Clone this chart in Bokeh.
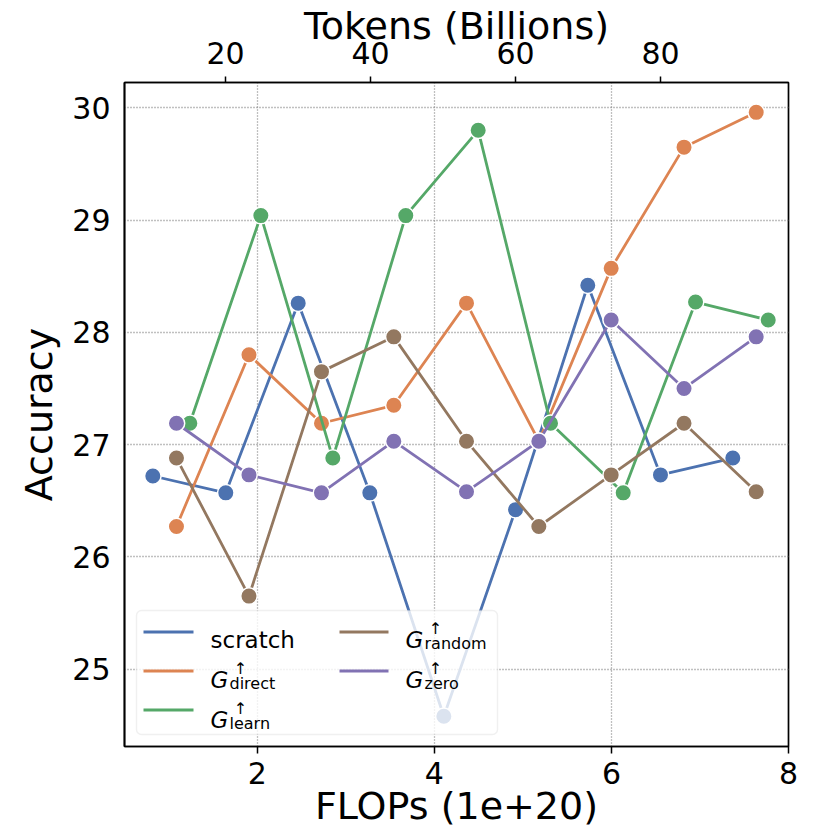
from bokeh.plotting import figure
from bokeh.models import Range1d, LinearAxis, FixedTicker, BoxAnnotation, Arrow, Label
from bokeh.embed import file_html
from bokeh.resources import INLINE

FONT = "DejaVu Sans"

# ---- data ----
flops_scratch = [0.820, 1.644, 2.462, 3.271, 4.107, 4.917, 5.733, 6.554, 7.371]
flops_grown = [1.087, 1.906, 2.725, 3.542, 4.363, 5.180, 5.997, 6.820, 7.635]
flops_learn = [1.238, 2.040, 2.853, 3.677, 4.495, 5.312, 6.133, 6.950, 7.771]

acc_scratch = [26.72, 26.57, 28.26, 26.57, 24.58, 26.42, 28.42, 26.73, 26.88]
acc_direct = [26.27, 27.80, 27.19, 27.35, 28.26, 27.03, 28.57, 29.65, 29.96]
acc_learn = [27.19, 29.04, 26.88, 29.04, 29.80, 27.19, 26.57, 28.27, 28.11]
acc_random = [26.88, 25.65, 27.65, 27.96, 27.03, 26.27, 26.73, 27.19, 26.58]
acc_zero = [27.19, 26.73, 26.57, 27.03, 26.58, 27.03, 28.11, 27.50, 27.96]

x_ticks = [2, 4, 6, 8]
y_ticks = [25, 26, 27, 28, 29, 30]
token_ticks = [20, 40, 60, 80]

series_names = ["scratch", "direct", "learn", "random", "zero"]
series_colors = ["#4C72B0", "#DD8452", "#55A868", "#937860", "#8172B3"]
series_x = [flops_scratch, flops_grown, flops_learn, flops_grown, flops_grown]
series_y = [acc_scratch, acc_direct, acc_learn, acc_random, acc_zero]

FW, FH = 664, 664
p = figure(frame_width=FW, frame_height=FH,
           x_range=Range1d(0.5, 8.0), y_range=Range1d(24.31, 30.226),
           output_backend="svg", toolbar_location=None,
           min_border_left=124, min_border_right=42,
           min_border_top=82, min_border_bottom=84)
p.extra_x_ranges = {"tokens": Range1d(6.07, 97.66)}
p.background_fill_color = "white"
p.border_fill_color = "white"
p.outline_line_color = "black"
p.outline_line_width = 1.7
p.outline_line_alpha = 1.0

def style_axis(ax, ticks, tick_out, standoff, label=None, label_standoff=0, lh=1.2):
    ax.ticker = FixedTicker(ticks=ticks)
    ax.major_label_text_font = FONT
    ax.major_label_text_font_size = "30px"
    ax.major_label_text_color = "black"
    ax.major_tick_out = tick_out
    ax.major_tick_in = 0
    ax.minor_tick_out = 0
    ax.minor_tick_in = 0
    ax.major_tick_line_color = "black"
    ax.major_tick_line_width = 1.5
    ax.axis_line_color = "black"
    ax.axis_line_width = 1.7
    ax.major_label_standoff = standoff
    if label is not None:
        ax.axis_label = label
        ax.axis_label_text_font = FONT
        ax.axis_label_text_font_size = "38px"
        ax.axis_label_text_font_style = "normal"
        ax.axis_label_text_color = "black"
        ax.axis_label_standoff = label_standoff
        ax.axis_label_text_line_height = lh

xa = p.below[0]
style_axis(xa, x_ticks, 7, 8, "FLOPs (1e+20)", -3)
ya = p.left[0]
style_axis(ya, y_ticks, 0, 14, "Accuracy", 8)

ta = LinearAxis(x_range_name="tokens")
style_axis(ta, token_ticks, 6, 13, "Tokens (Billions)", -9, lh=0.9)
p.add_layout(ta, "above")

for g in (p.xgrid[0], p.ygrid[0]):
    g.grid_line_color = "#808080"
    g.grid_line_dash = "1 2"
    g.grid_line_width = 1.3

# ---- series ----
for xs, ys, c in zip(series_x, series_y, series_colors):
    p.line(xs, ys, line_color=c, line_width=2.8)
    p.scatter(xs, ys, size=16.5, fill_color=c, line_color="white", line_width=1.5)

# ---- legend (drawn manually so that math-like labels stay real text) ----
box = BoxAnnotation(left=12, right=373, bottom=12, top=136,
                    left_units="screen", right_units="screen",
                    bottom_units="screen", top_units="screen",
                    fill_color="white", fill_alpha=0.8,
                    line_color="#cccccc", line_width=1.4, border_radius=5,
                    level="annotation")
p.add_layout(box)

row_line_y = [114.5, 75.5, 36.5]
row_base_y = [106.7, 66.7, 26.7]
col_line_x = [(19, 69), (215, 264)]
col_text_x = [86, 281]
slots = [(0, 0), (0, 1), (0, 2), (1, 0), (1, 1)]

for name, c, (col, row) in zip(series_names, series_colors, slots):
    x0, x1 = col_line_x[col]
    yl = row_line_y[row]
    p.add_layout(Arrow(end=None, x_start=x0, y_start=yl, x_end=x1, y_end=yl,
                       start_units="screen", end_units="screen",
                       line_color=c, line_width=2.8))
    tx = col_text_x[col]
    by = row_base_y[row]
    if name == "scratch":
        p.add_layout(Label(x=tx, y=by, x_units="screen", y_units="screen", text=name,
                           text_baseline="alphabetic", text_font=FONT,
                           text_font_size="23px", text_color="black"))
    else:
        p.add_layout(Label(x=tx, y=by, x_units="screen", y_units="screen", text="G",
                           text_baseline="alphabetic", text_font=FONT, text_font_style="italic",
                           text_font_size="23px", text_color="black"))
        p.add_layout(Label(x=tx + 30, y=by + 11.5, x_units="screen", y_units="screen", text="↑",
                           text_align="center", text_baseline="alphabetic", text_font=FONT,
                           text_font_size="16px", text_color="black"))
        p.add_layout(Label(x=tx + 19, y=by - 4, x_units="screen", y_units="screen", text=name,
                           text_baseline="alphabetic", text_font=FONT,
                           text_font_size="16px", text_color="black"))

open("out.html", "w").write(file_html(p, INLINE))
